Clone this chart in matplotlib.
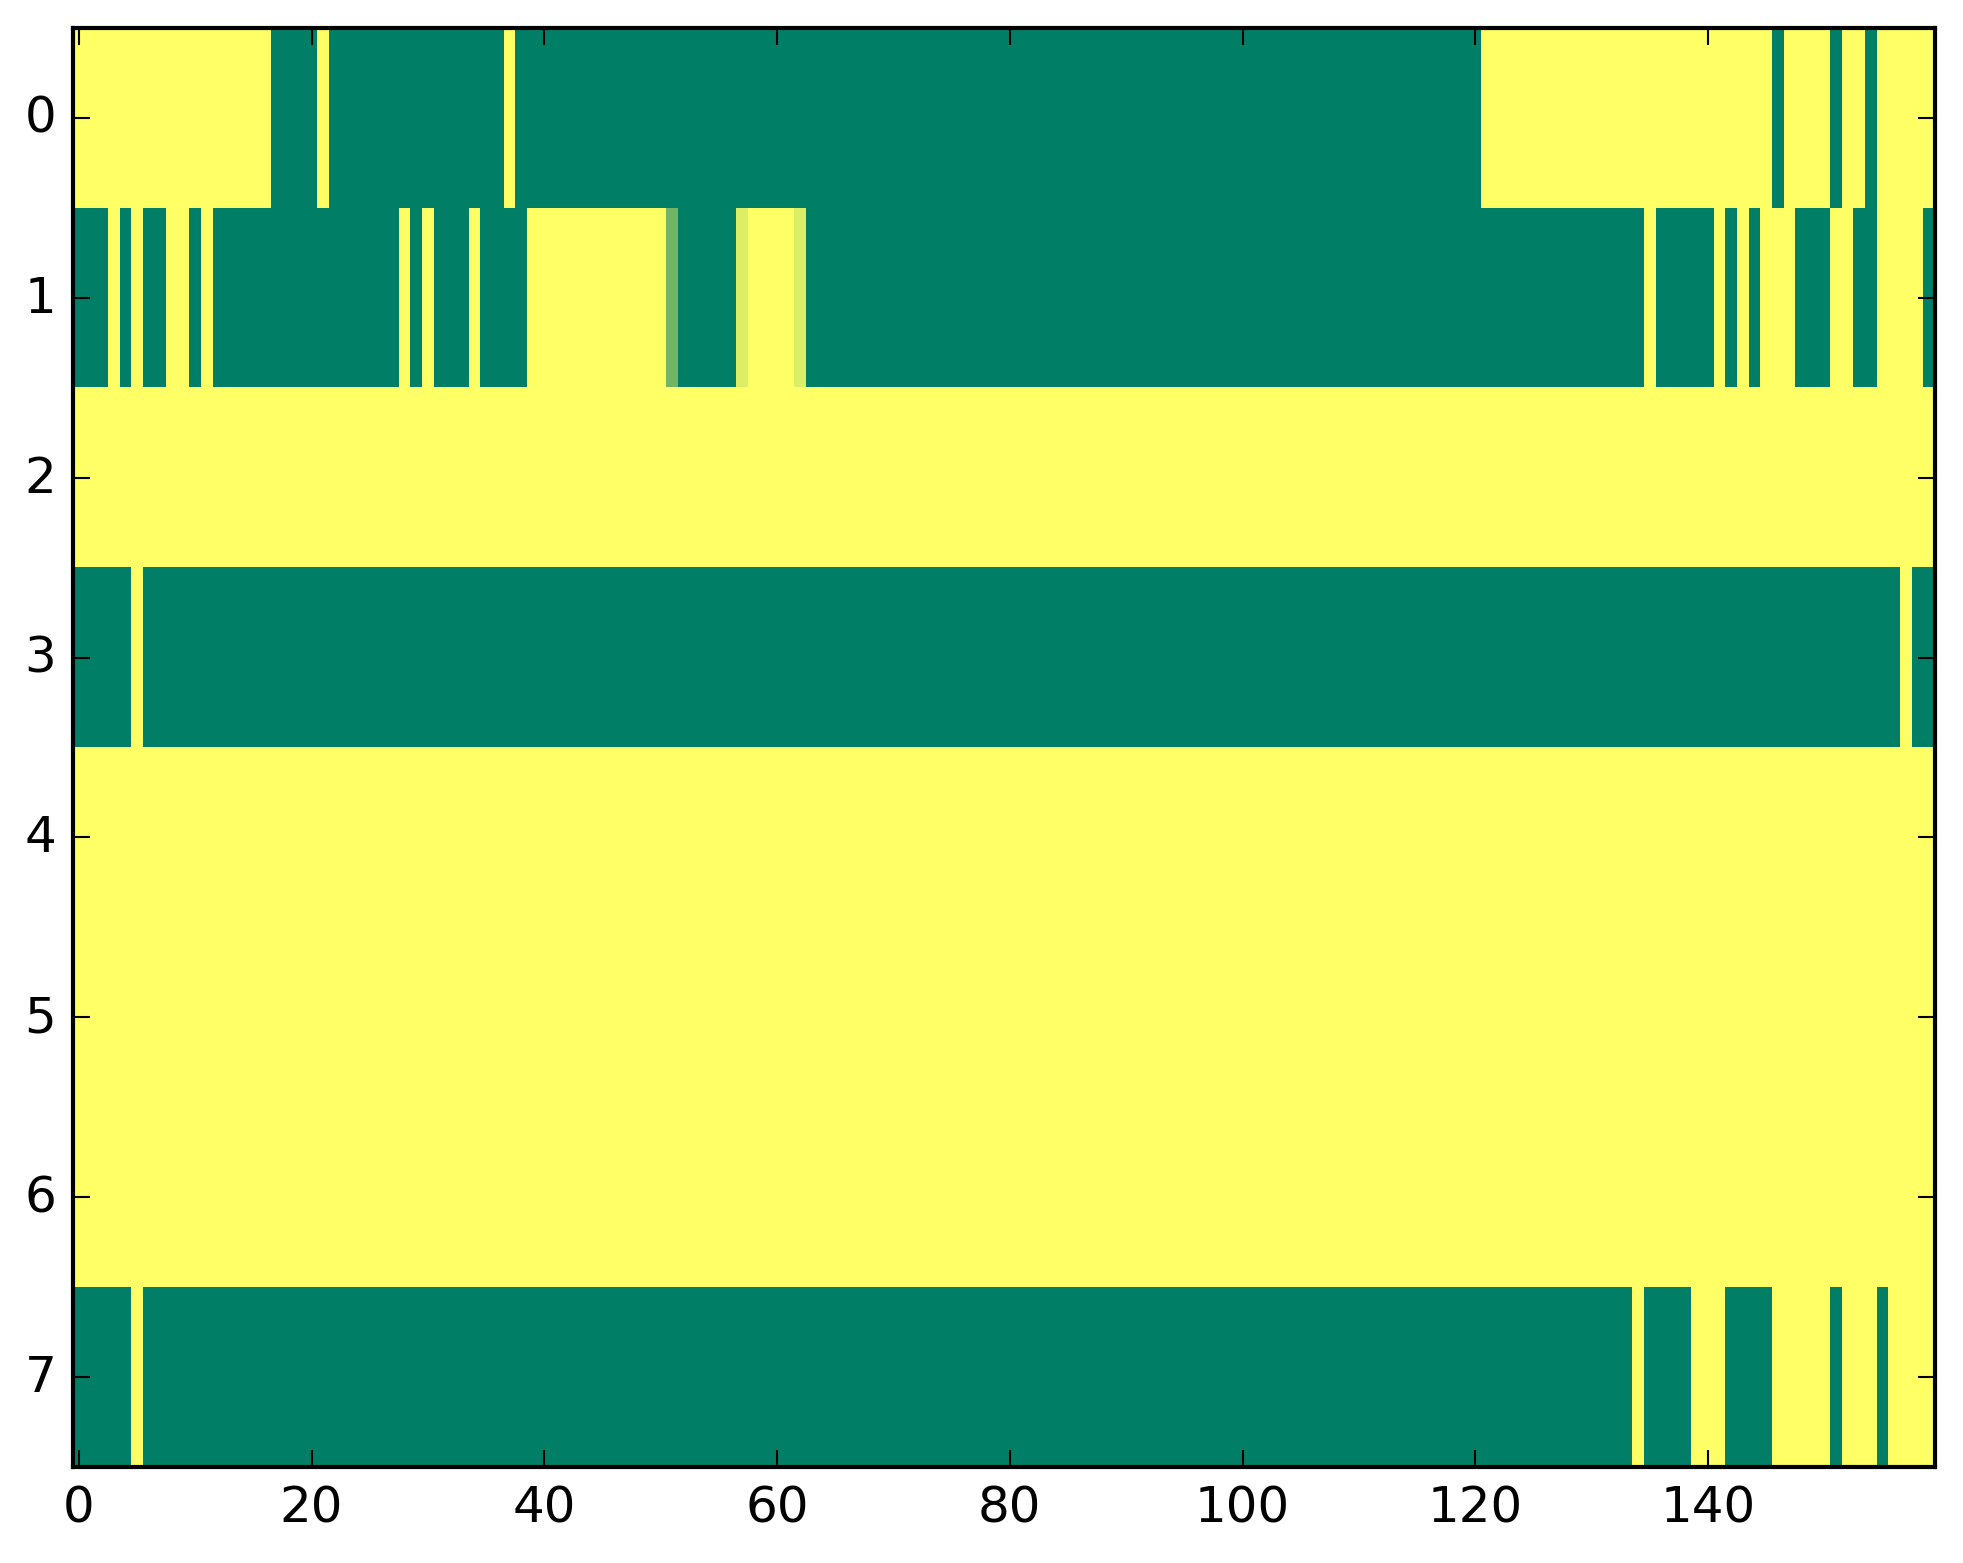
import numpy as np
import matplotlib
matplotlib.use("Agg")
import matplotlib.pyplot as plt

plt.style.use("classic")

n_rows = 8
n_cols = 160

# columns that are 0 (dark green) in each row; every other cell is 1
zero_runs = {
    0: [(17, 20), (22, 36), (38, 120), (146, 146), (151, 151), (154, 154)],
    1: [(0, 2), (4, 4), (6, 7), (10, 10), (12, 27), (29, 29), (31, 33),
        (35, 38), (52, 56), (63, 134), (136, 140), (142, 142), (144, 144),
        (148, 150), (153, 154), (159, 159)],
    2: [],
    3: [(0, 4), (6, 156), (158, 159)],
    4: [],
    5: [],
    6: [],
    7: [(0, 4), (6, 133), (135, 138), (142, 145), (151, 151), (155, 155)],
}
# cells with in-between values (row, col, value)
partial_cells = [(1, 51, 0.43), (1, 57, 0.86), (1, 62, 0.86)]

x_ticks = [0, 20, 40, 60, 80, 100, 120, 140]
y_ticks = list(range(n_rows))

grid = np.ones((n_rows, n_cols))
for row, runs in zero_runs.items():
    for a, b in runs:
        grid[row, a:b + 1] = 0.0
for row, col, val in partial_cells:
    grid[row, col] = val

fig = plt.figure(figsize=(1963 / 300, 1564 / 300), dpi=300, facecolor="white")
ax = fig.add_axes([73 / 1963, 1 - 1468 / 1564, (1935 - 73) / 1963, (1468 - 29) / 1564])
ax.imshow(grid, cmap="summer", vmin=0, vmax=1, aspect="auto",
          interpolation="nearest")
ax.set_xticks(x_ticks)
ax.set_yticks(y_ticks)
ax.set_xlim(-0.5, n_cols - 0.5)
ax.set_ylim(n_rows - 0.5, -0.5)

fig.savefig("out.png", dpi=300, facecolor="white")
